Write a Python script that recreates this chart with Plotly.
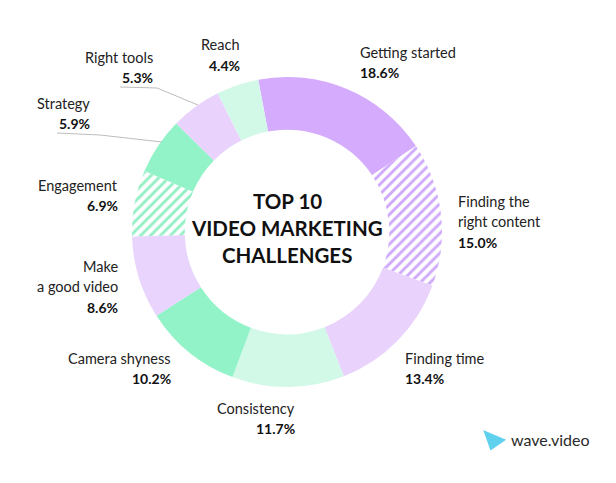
import plotly.graph_objects as go

# ---- data ----
categories = ["Getting started", "Finding the right content", "Finding time", "Consistency",
              "Camera shyness", "Make a good video", "Engagement", "Strategy", "Right tools", "Reach"]
values = [18.6, 15.0, 13.4, 11.7, 10.2, 8.6, 6.9, 5.9, 5.3, 4.4]
label_lines = [["Getting started"], ["Finding the", "right content"], ["Finding time"], ["Consistency"],
               ["Camera shyness"], ["Make", "a good video"], ["Engagement"], ["Strategy"], ["Right tools"], ["Reach"]]
hatched = [False, True, False, False, False, False, True, False, False, False]
title_lines = ["TOP 10", "VIDEO MARKETING", "CHALLENGES"]

# ---- styles ----
colors = ["#d5acfd", "#cfa9fb", "#e9d3fd", "#d2f9e8", "#93f3c8",
          "#e8d4fd", "#93efc4", "#93f3c8", "#e9d3fd", "#d2f9e8"]
W, H = 616, 483
# label anchor (x px, y px of first line, anchor side)
label_pos = [(358, 52, "left"), (456, 201, "left"), (403, 358, "left"), (297, 408, "right"),
             (173, 358, "right"), (120, 266, "right"), (120, 185, "right"), (92, 103, "right"),
             (155, 57, "right"), (242, 45, "right")]
LINE = 20.5

cx, cy, R = 287, 232, 155

def px(x):
    return x / W

def py(y):
    return 1 - y / H

fig = go.Figure(go.Pie(
    labels=categories, values=values, sort=False, direction="clockwise",
    rotation=-10.7, hole=0.66, textinfo="none", hoverinfo="label+percent",
    marker=dict(
        colors=["#ffffff" if h else c for c, h in zip(colors, hatched)],
        line=dict(width=0),
        pattern=dict(shape=["/" if h else "" for h in hatched],
                     fgcolor=colors, bgcolor=["#ffffff"] * len(colors),
                     size=7, solidity=0.42, fillmode="replace"),
    ),
    domain=dict(x=[px(cx - R), px(cx + R)], y=[py(cy + R), py(cy - R)]),
    showlegend=False,
))

FONT = "Lato"
ann = []
for lines, v, (x, y, side) in zip(label_lines, values, label_pos):
    for i, t in enumerate(lines):
        ann.append(dict(x=px(x), y=py(y + i * LINE), xref="paper", yref="paper",
                        text=t, showarrow=False, xanchor=side, yanchor="middle",
                        font=dict(family=FONT, size=14.5, color="#222222")))
    ann.append(dict(x=px(x), y=py(y + len(lines) * LINE), xref="paper", yref="paper",
                    text=f"<b>{v:.1f}%</b>", showarrow=False, xanchor=side, yanchor="middle",
                    font=dict(family=FONT, size=14, color="#111111")))

for i, t in enumerate(title_lines):
    ann.append(dict(x=px(cx), y=py(201 + i * 27), xref="paper", yref="paper",
                    text=f"<b>{t}</b>", showarrow=False, xanchor="center", yanchor="middle",
                    font=dict(family=FONT, size=20.5, color="#111111")))

ann.append(dict(x=px(509), y=py(439), xref="paper", yref="paper", text="wave.video",
                showarrow=False, xanchor="left", yanchor="middle",
                font=dict(family=FONT, size=16, color="#2a2a2a")))

def path(points):
    return "M " + " L ".join(f"{px(x):.4f},{py(y):.4f}" for x, y in points)

shapes = [
    dict(type="path", xref="paper", yref="paper",
         path=path([(120, 87), (157, 88), (198, 105)]),
         line=dict(color="#bdbdbd", width=1)),
    dict(type="path", xref="paper", yref="paper",
         path=path([(57, 133), (100, 135), (162, 142)]),
         line=dict(color="#bdbdbd", width=1)),
    dict(type="path", xref="paper", yref="paper",
         path=path([(485, 432), (504, 440), (491, 449)]) + " Z",
         fillcolor="#5fd0ee", line=dict(color="#5fd0ee", width=2)),
]

fig.update_layout(
    width=W, height=H, margin=dict(l=0, r=0, t=0, b=0),
    paper_bgcolor="white", plot_bgcolor="white",
    annotations=ann, shapes=shapes,
)
fig.write_html("out.html", config={"displayModeBar": False},
               post_script="document.body.style.margin='0';")
